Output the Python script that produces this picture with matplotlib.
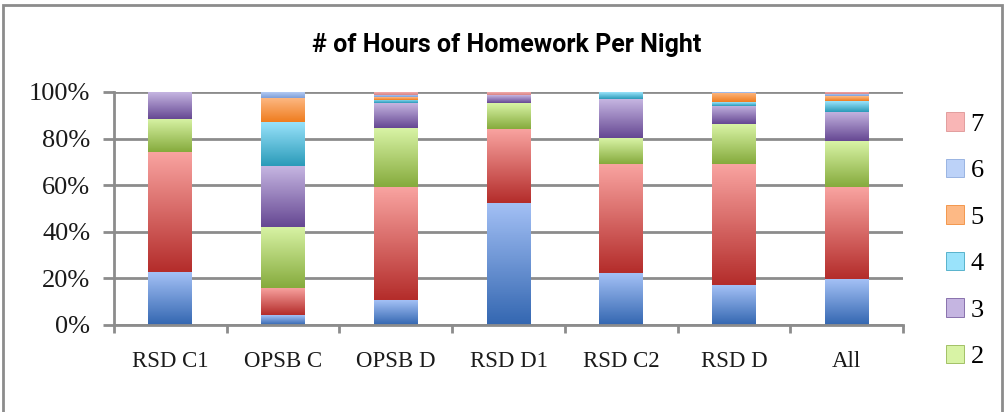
import matplotlib
matplotlib.use("Agg")
import matplotlib.pyplot as plt
import numpy as np
from matplotlib.colors import LinearSegmentedColormap
from matplotlib.patches import Rectangle, Patch

# data (percent of students in each group)
groups = ["RSD C1", "OPSB C", "OPSB D", "RSD D1", "RSD C2", "RSD D", "All"]
hours = ["0", "1", "2", "3", "4", "5", "6", "7"]

h0 = [22.6, 4.1, 10.7, 52.4, 22.1, 17.1, 19.6]
h1 = [51.7, 11.6, 48.6, 31.9, 47.1, 52.1, 39.7]
h2 = [14.3, 26.3, 25.3, 11.0, 11.1, 17.1, 19.6]
h3 = [11.4, 26.1, 10.7, 3.2, 16.7, 7.9, 12.6]
h4 = [0.0, 18.9, 1.4, 0.0, 3.0, 1.5, 4.6]
h5 = [0.0, 10.4, 1.0, 0.0, 0.0, 3.9, 2.0]
h6 = [0.0, 2.6, 1.0, 0.0, 0.0, 0.4, 0.9]
h7 = [0.0, 0.0, 1.3, 1.5, 0.0, 0.0, 1.0]
series = [h0, h1, h2, h3, h4, h5, h6, h7]

# (top colour, bottom colour) for each series gradient
grad = [
    ("#a3c0f5", "#3467b1"),
    ("#f9a4a1", "#b42d2b"),
    ("#d8f3a5", "#86ab3d"),
    ("#c5b5e1", "#664893"),
    ("#9ae3fb", "#2b9bb9"),
    ("#fdb985", "#ef7d1f"),
    ("#bcd2f8", "#7f9fd8"),
    ("#f9b6b6", "#d88686"),
]

fig = plt.figure(figsize=(10.08, 4.12), dpi=100)
ax = fig.add_axes([0.1131, 0.2112, 0.7827, 0.5655])

x = np.arange(len(groups))
bottom = np.zeros(len(groups))
grid_gray = "#8c8c8c"

for vals, (c_top, c_bot) in zip(series, grad):
    vals = np.array(vals)
    bars = ax.bar(x, vals, 0.39, bottom=bottom, facecolor="none",
                  edgecolor="none", zorder=3)
    cmap = LinearSegmentedColormap.from_list("g", [c_bot, c_top])
    for p in bars.patches:
        h = p.get_height()
        if h <= 0:
            continue
        x0, y0, w = p.get_x(), p.get_y(), p.get_width()
        im = ax.imshow(np.linspace(0, 1, 64).reshape(-1, 1), cmap=cmap,
                       origin="lower", aspect="auto",
                       extent=(x0, x0 + w, y0, y0 + h), zorder=3)
        im.set_clip_path(p)
    bottom += vals

ax.set_xlim(-0.5, len(groups) - 0.5)
ax.set_ylim(0, 100)

ax.set_yticks([0, 20, 40, 60, 80, 100])
ax.set_yticklabels(["0%", "20%", "40%", "60%", "80%", "100%"])
ax.set_xticks(x)
ax.set_xticklabels(groups)
ax.set_xticks(np.arange(len(groups) + 1) - 0.5, minor=True)
ax.tick_params(axis="x", which="major", length=0, pad=19)
ax.tick_params(axis="x", which="minor", length=6, width=2, color=grid_gray)
ax.tick_params(axis="y", length=8, width=2, color=grid_gray, pad=9)
for lab in ax.get_xticklabels():
    lab.set_family("Liberation Serif")
    lab.set_fontsize(16.5)
    lab.set_color("#1a1a1a")
for lab in ax.get_yticklabels():
    lab.set_family("Liberation Serif")
    lab.set_fontsize(19)
    lab.set_color("#1a1a1a")

ax.yaxis.grid(True, color=grid_gray, linewidth=2)
ax.set_axisbelow(True)
for s in ["top", "right"]:
    ax.spines[s].set_visible(False)
for s in ["left", "bottom"]:
    ax.spines[s].set_color(grid_gray)
    ax.spines[s].set_linewidth(2)
    ax.spines[s].set_zorder(4)

fig.text(0.503, 0.8738, "# of Hours of Homework Per Night", ha="center",
         va="baseline", fontsize=18, fontweight="bold", family="Roboto")

# legend: 7 down to 2 (the rest is cut off below the frame)
handles = [Patch(facecolor=grad[i][0], edgecolor=grad[i][1], linewidth=0.5)
           for i in range(7, 1, -1)]
labels = [hours[i] for i in range(7, 1, -1)]
leg = fig.legend(handles, labels, loc="upper left", bbox_to_anchor=(0.938, 0.727),
                 frameon=False, handlelength=0.7, handleheight=0.7,
                 handletextpad=0.25, labelspacing=0.87, borderpad=0.0,
                 borderaxespad=0.0,
                 prop={"family": "Liberation Serif", "size": 19})

# outer chart frame (bottom edge falls outside the picture)
fig.patches.append(Rectangle((3 / 1008, -0.05), 999 / 1008, 1.05 - 5 / 412,
                             transform=fig.transFigure, fill=False,
                             edgecolor="#8c8c8c", linewidth=2))

fig.savefig("out.png", dpi=100)
